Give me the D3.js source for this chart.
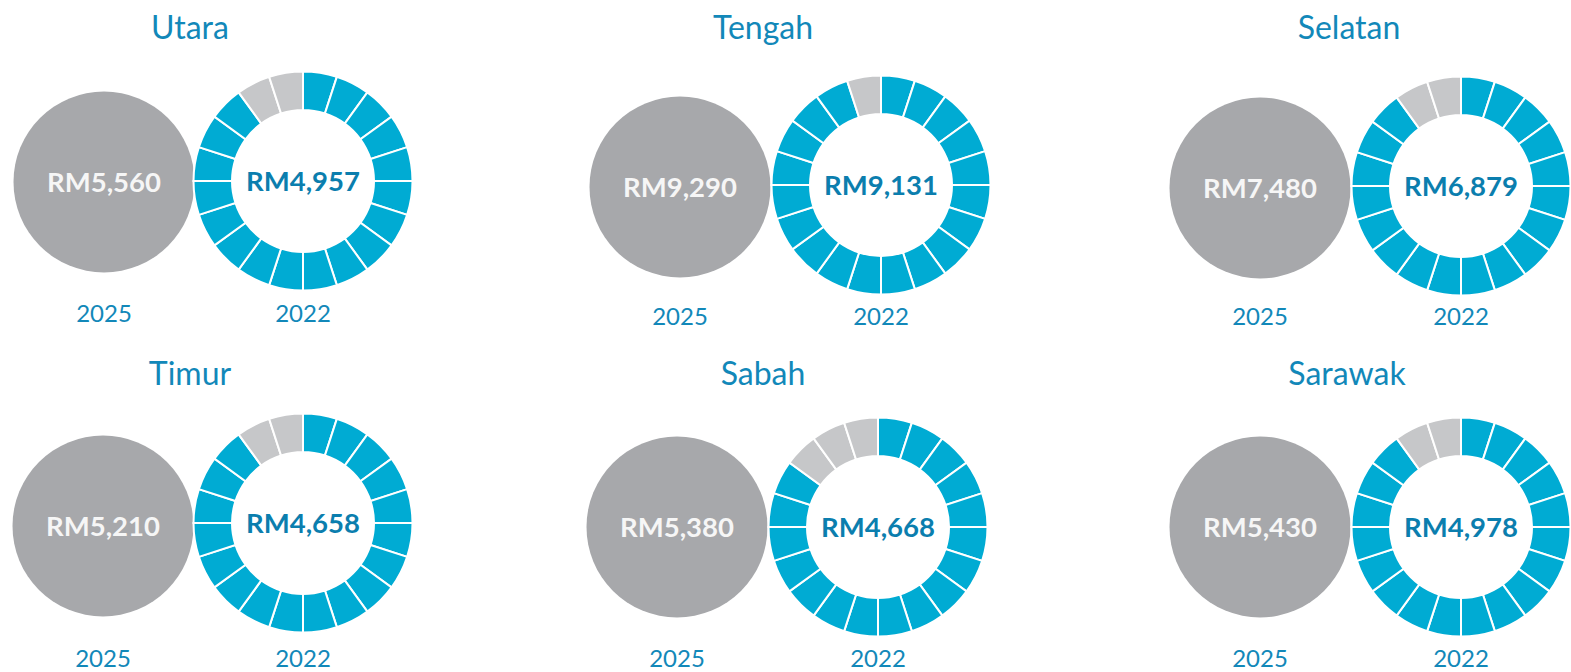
<!DOCTYPE html>
<html>
<head>
<meta charset="utf-8">
<script src="https://cdn.jsdelivr.net/npm/d3@7"></script>
<style>
  html, body { margin: 0; padding: 0; background: #ffffff; }
  svg { display: block; font-family: Lato, "Open Sans", sans-serif; }
</style>
</head>
<body>
<svg id="chart" width="1571" height="672"></svg>
<script>
// ---- data ----
const regions = ["Utara", "Tengah", "Selatan", "Timur", "Sabah", "Sarawak"];
const value2025 = [5560, 9290, 7480, 5210, 5380, 5430];
const value2022 = [4957, 9131, 6879, 4658, 4668, 4978];
const filledSegments = [18, 19, 18, 18, 17, 18];
const segmentTotal = 20;
const yearLabels = ["2025", "2022"];

// ---- layout (positions, not data) ----
const layout = [
  { gx: 104,  gy: 182, dx: 303,  dy: 181, ly: 322, tx: 190,  ty: 39 },
  { gx: 680,  gy: 187, dx: 881,  dy: 185, ly: 325, tx: 763,  ty: 39 },
  { gx: 1260, gy: 188, dx: 1461, dy: 186, ly: 325, tx: 1349, ty: 39 },
  { gx: 103,  gy: 526, dx: 303,  dy: 523, ly: 667, tx: 190,  ty: 385 },
  { gx: 677,  gy: 527, dx: 878,  dy: 527, ly: 667, tx: 763,  ty: 385 },
  { gx: 1260, gy: 527, dx: 1461, dy: 527, ly: 667, tx: 1347, ty: 385 }
];

const titleColor = "#1288b9";
const greyCircle = "#a7a8ab";
const blue = "#00abd3";
const greySeg = "#c6c7c9";
const innerText = "#0b7eae";

const svg = d3.select("#chart");
const fmt = d3.format(",");

const rScale = d3.scaleSqrt().domain([0, 5560]).range([0, 90.5]);
const arc = d3.arc().innerRadius(71).outerRadius(109.5);
const pie = d3.pie().sort(null).value(1);

regions.forEach((name, i) => {
  const L = layout[i];
  const g = svg.append("g");

  g.append("text")
    .attr("x", L.tx).attr("y", L.ty)
    .attr("text-anchor", "middle")
    .attr("fill", titleColor)
    .attr("font-size", 32)
    .text(name);

  // 2025 grey circle (same size for all)
  g.append("circle")
    .attr("cx", L.gx).attr("cy", L.gy)
    .attr("r", rScale(5560))
    .attr("fill", greyCircle);

  g.append("text")
    .attr("x", L.gx).attr("y", L.gy)
    .attr("dy", "0.36em")
    .attr("text-anchor", "middle")
    .attr("fill", "#f6f6f6")
    .attr("font-size", 27.5)
    .attr("font-weight", 700)
    .text("RM" + fmt(value2025[i]));

  // 2022 segmented donut
  const segs = d3.range(segmentTotal);
  const color = d3.scaleThreshold().domain([filledSegments[i]]).range([blue, greySeg]);
  const dg = g.append("g").attr("transform", `translate(${L.dx},${L.dy})`);
  dg.selectAll("path")
    .data(pie(segs))
    .join("path")
    .attr("d", arc)
    .attr("fill", d => color(d.index))
    .attr("stroke", "#ffffff")
    .attr("stroke-width", 2);

  dg.append("text")
    .attr("dy", "0.36em")
    .attr("text-anchor", "middle")
    .attr("fill", innerText)
    .attr("font-size", 27.5)
    .attr("font-weight", 700)
    .text("RM" + fmt(value2022[i]));

  // year labels
  [L.gx, L.dx].forEach((x, k) => {
    g.append("text")
      .attr("x", x).attr("y", L.ly)
      .attr("text-anchor", "middle")
      .attr("fill", titleColor)
      .attr("font-size", 24)
      .text(yearLabels[k]);
  });
});
</script>
</body>
</html>
